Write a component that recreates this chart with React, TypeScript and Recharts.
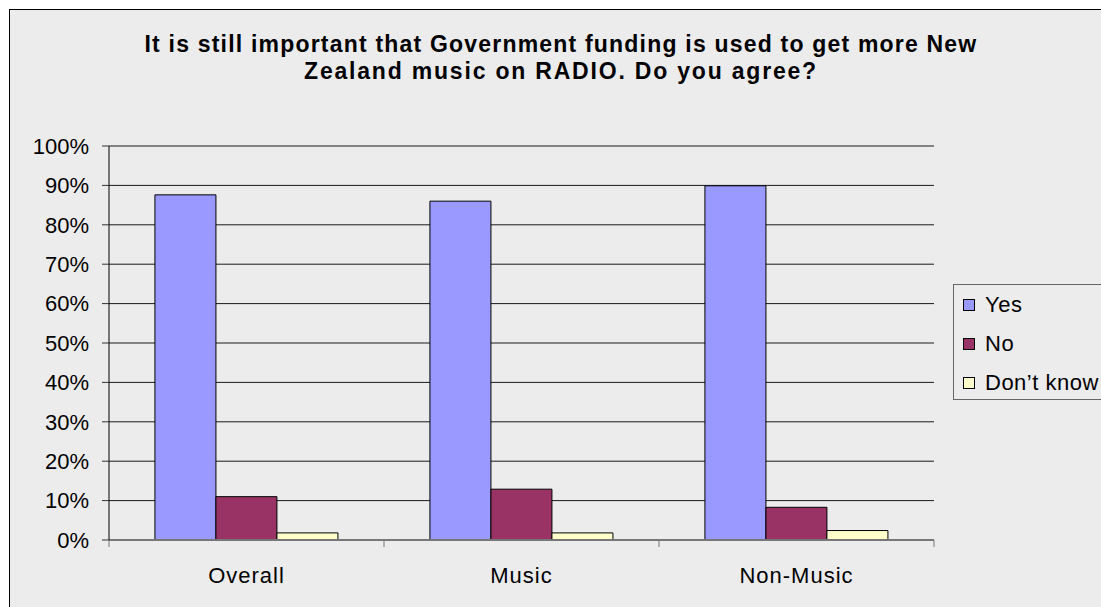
import React from "react";
import { BarChart, Bar, XAxis, YAxis, CartesianGrid, Legend } from "recharts";

const CATEGORIES = ["Overall", "Music", "Non-Music"];
const YES = [87.6, 86.0, 89.9];
const NO = [11.0, 12.9, 8.3];
const DONT_KNOW = [1.8, 1.8, 2.4];
const Y_TICKS = [0, 10, 20, 30, 40, 50, 60, 70, 80, 90, 100];
const TITLE_LINES = [
  "It is still important that Government funding is used to get more New",
  "Zealand music on RADIO. Do you agree?"
];

const SERIES = [
  { key: "yes", name: "Yes", color: "#9999FF" },
  { key: "no", name: "No", color: "#993366" },
  { key: "dontKnow", name: "Don\u2019t know", color: "#FFFFCC" }
];

const data = CATEGORIES.map((name, i) => ({
  name,
  yes: YES[i],
  no: NO[i],
  dontKnow: DONT_KNOW[i]
}));

const FONT = "'Liberation Sans', Arial, sans-serif";
const BG = "#ECECEC";
const TICK_SIZE = 7;
const TICK_MARGIN = 20;
// the two title lines are spaced a little differently in the original
const TITLE_SPACING = [1.2, 1.8];

function CategoryTick(props: any) {
  const { x, y, payload, index, visibleTicksCount } = props;
  const half = payload?.offset ?? 137.5;
  const axisY = y - TICK_SIZE - TICK_MARGIN;
  const isLast = index === (visibleTicksCount ?? CATEGORIES.length) - 1;
  return (
    <g>
      <line x1={x - half} x2={x - half} y1={axisY} y2={axisY + TICK_SIZE} stroke="#777" />
      {isLast && (
        <line x1={x + half} x2={x + half} y1={axisY} y2={axisY + TICK_SIZE} stroke="#777" />
      )}
      <text
        x={x}
        y={y}
        dy="0.71em"
        textAnchor="middle"
        fontSize={22}
        fontFamily={FONT}
        letterSpacing={1}
        fill="#000"
      >
        {payload.value}
      </text>
    </g>
  );
}

function LegendBox() {
  // keep the series order (Yes, No, Don't know) top to bottom
  return (
    <div
      style={{
        border: "1px solid #666",
        background: BG,
        width: 170,
        height: 114,
        fontFamily: FONT,
        fontSize: 22,
        letterSpacing: 0.5,
        color: "#000"
      }}
    >
      {SERIES.map((s) => (
        <div
          key={s.key}
          style={{ height: 39, lineHeight: "39px", display: "flex", alignItems: "center", whiteSpace: "nowrap" }}
        >
          <span
            style={{
              display: "inline-block",
              width: 10,
              height: 10,
              marginLeft: 9,
              marginRight: 10,
              border: "1px solid #000",
              background: s.color
            }}
          />
          <span>{s.name}</span>
        </div>
      ))}
    </div>
  );
}

export default function App() {
  return (
    <div style={{ position: "relative", width: 1101, height: 607, background: "#fff", overflow: "hidden" }}>
      <style>{"body{margin:0;overflow:hidden}"}</style>
      <div
        style={{
          position: "absolute",
          left: 9,
          top: 9,
          width: 1091,
          height: 597,
          background: BG,
          borderLeft: "1px solid #000",
          borderTop: "1px solid #000",
          overflow: "hidden"
        }}
      >
        <div
          style={{
            position: "absolute",
            left: 51,
            top: 21,
            width: 1000,
            textAlign: "center",
            fontFamily: FONT,
            fontWeight: "bold",
            fontSize: 23,
            lineHeight: "27px",
            color: "#000",
            whiteSpace: "nowrap"
          }}
        >
          {TITLE_LINES.map((line, i) => (
            <div key={line} style={{ letterSpacing: TITLE_SPACING[i] }}>
              {line}
            </div>
          ))}
        </div>
        <BarChart
          width={1091}
          height={597}
          data={data}
          margin={{ top: 136, right: 167, bottom: 27, left: 0 }}
          barCategoryGap="16.7%"
          barGap={0}
        >
          <CartesianGrid vertical={false} stroke="#1a1a1a" fill="none" />
          <XAxis
            dataKey="name"
            height={40}
            axisLine={{ stroke: "#777", strokeWidth: 2 }}
            tickLine={false}
            tickSize={TICK_SIZE}
            tickMargin={TICK_MARGIN}
            tick={<CategoryTick />}
            interval={0}
          />
          <YAxis
            width={99}
            domain={[0, 100]}
            ticks={Y_TICKS}
            interval={0}
            tickFormatter={(v: number) => `${v}%`}
            axisLine={{ stroke: "#000" }}
            tickLine={{ stroke: "#333" }}
            tickSize={TICK_SIZE}
            tickMargin={13}
            tick={{ fontSize: 22, fill: "#000", fontFamily: FONT }}
          />
          <Legend
            layout="vertical"
            align="center"
            verticalAlign="middle"
            content={<LegendBox />}
            wrapperStyle={{ left: 943, top: 274, width: 172, height: 116 }}
          />
          {SERIES.map((s) => (
            <Bar
              key={s.key}
              dataKey={s.key}
              name={s.name}
              fill={s.color}
              stroke="#000"
              strokeWidth={1}
              isAnimationActive={false}
            />
          ))}
        </BarChart>
      </div>
    </div>
  );
}
